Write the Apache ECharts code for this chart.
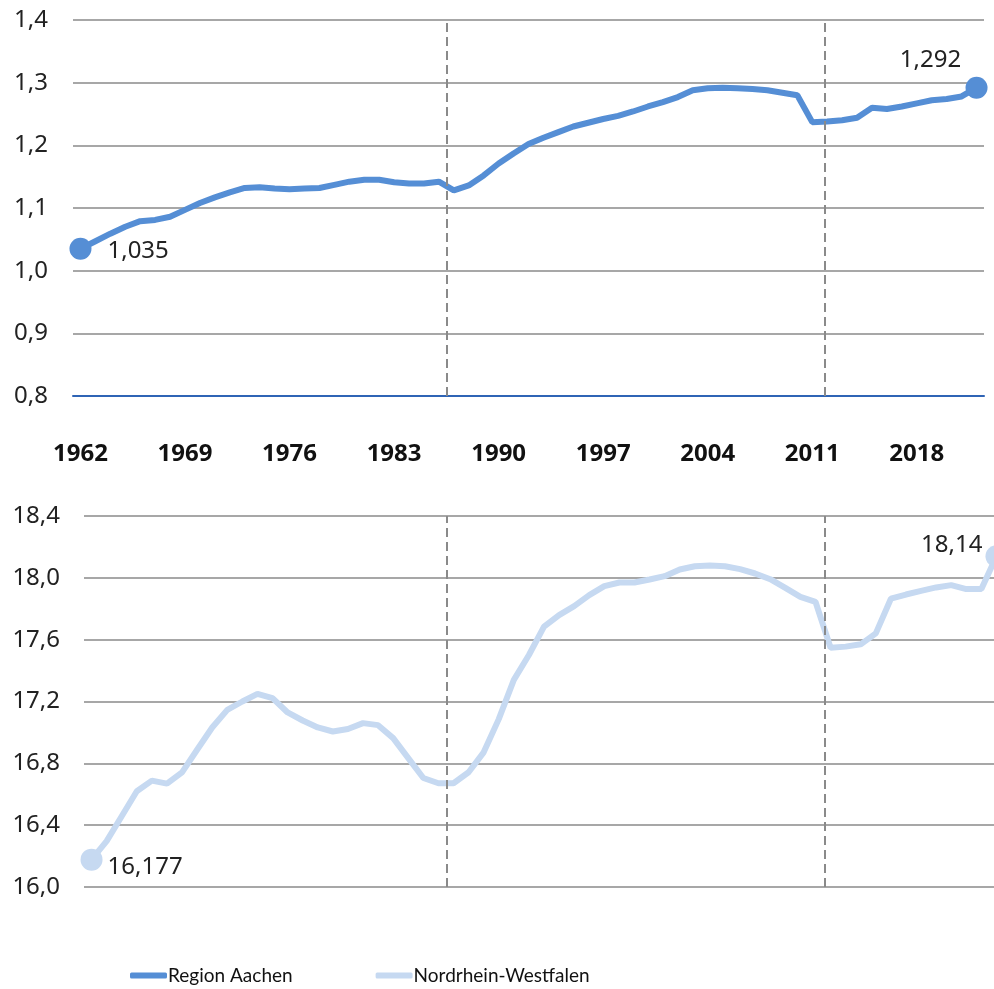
<!DOCTYPE html>
<html>
<head>
<meta charset="utf-8">
<script src="https://cdn.jsdelivr.net/npm/echarts@6/dist/echarts.min.js"></script>
<style>
  html, body { margin: 0; padding: 0; background: #fff; }
  #chart { width: 994px; height: 989px; }
</style>
</head>
<body>
<div id="chart"></div>
<script>
  // Jahre (Kategorien)
  const years = [
    1962, 1963, 1964, 1965, 1966, 1967, 1968, 1969, 1970, 1971,
    1972, 1973, 1974, 1975, 1976, 1977, 1978, 1979, 1980, 1981,
    1982, 1983, 1984, 1985, 1986, 1987, 1988, 1989, 1990, 1991,
    1992, 1993, 1994, 1995, 1996, 1997, 1998, 1999, 2000, 2001,
    2002, 2003, 2004, 2005, 2006, 2007, 2008, 2009, 2010, 2011,
    2012, 2013, 2014, 2015, 2016, 2017, 2018, 2019, 2020, 2021,
    2022
  ]

  // Region Aachen (Mio.)
  const aachen = [
    1.035, 1.047, 1.059, 1.070, 1.079, 1.081, 1.086, 1.097, 1.108, 1.117,
    1.125, 1.132, 1.133, 1.131, 1.130, 1.131, 1.132, 1.137, 1.142, 1.145,
    1.145, 1.141, 1.139, 1.139, 1.142, 1.128, 1.136, 1.152, 1.171, 1.187,
    1.202, 1.212, 1.221, 1.230, 1.236, 1.242, 1.247, 1.254, 1.262, 1.269,
    1.277, 1.288, 1.291, 1.292, 1.291, 1.290, 1.288, 1.284, 1.280, 1.237,
    1.238, 1.240, 1.244, 1.260, 1.258, 1.262, 1.267, 1.272, 1.274, 1.278,
    1.292
  ]

  // Nordrhein-Westfalen (Mio.)
  const nrw = [
    16.177, 16.297, 16.458, 16.619, 16.688, 16.669, 16.742, 16.888, 17.032, 17.146,
    17.200, 17.249, 17.222, 17.129, 17.077, 17.032, 17.006, 17.022, 17.060, 17.047,
    16.963, 16.834, 16.705, 16.671, 16.671, 16.742, 16.871, 17.086, 17.340, 17.501,
    17.684, 17.759, 17.817, 17.888, 17.946, 17.970, 17.970, 17.989, 18.011, 18.054,
    18.075, 18.080, 18.075, 18.056, 18.028, 17.991, 17.935, 17.877, 17.845, 17.548,
    17.555, 17.570, 17.641, 17.865, 17.892, 17.916, 17.938, 17.953, 17.927, 17.927,
    18.14
  ]

  const yTicksTop = [0.8, 1.4, 0.1]      // min, max, interval
  const yTicksBottom = [16.0, 18.4, 0.4]
  const censusTop = [1986.54, 2011.85]    // gestrichelte Linien (Zensus)
  const censusBottom = [1985.57, 2010.64]

  const seriesNames = ['Region Aachen', 'Nordrhein-Westfalen']
  const colors = ['#558ed5', '#c6d9f1']

  const font = 'Noto Sans'
  const gridColor = '#8a8a8a'
  const comma = v => String(v).replace('.', ',')

  // Endpunkte mit Kreis und Beschriftung
  const withEnds = (vals, firstLabel, lastLabel) => vals.map((v, i) => {
    if (i === 0) return { value: v, symbol: 'circle', label: Object.assign({ show: true }, firstLabel) }
    if (i === vals.length - 1) return { value: v, symbol: 'circle', label: Object.assign({ show: true }, lastLabel) }
    return { value: v }
  })

  const dashLine = (axisIdx, vals) => ({
    type: 'line', xAxisIndex: axisIdx, yAxisIndex: axisIdx === 1 ? 0 : 1,
    data: [], silent: true,
    markLine: {
      silent: true, symbol: 'none', label: { show: false },
      lineStyle: { color: '#8a8a8a', width: 2, type: [9, 5] },
      data: vals.map(v => ({ xAxis: v }))
    }
  })

  const chart = echarts.init(document.getElementById('chart'))
  chart.setOption({
    animation: false,
    textStyle: { fontFamily: font },
    grid: [
      { left: 73, width: 911, top: 20, height: 376, outerBoundsMode: 'none' },
      { left: 84, width: 920, top: 516, height: 371, outerBoundsMode: 'none' }
    ],
    legend: {
      data: seriesNames,
      left: 130, top: 966, padding: 0,
      icon: 'roundRect', itemWidth: 37, itemHeight: 6, itemGap: 83,
      textStyle: { fontSize: 19, fontFamily: 'Lato', color: '#111', padding: [0, 0, 0, -4] }
    },
    xAxis: [
      {
        type: 'category', gridIndex: 0, data: years, boundaryGap: true,
        axisLine: { show: true, lineStyle: { color: '#2f64b5', width: 2 } },
        axisTick: { show: false },
        axisLabel: { interval: 6, margin: 46, fontSize: 24, fontWeight: 'bold', color: '#111' },
        splitLine: { show: false }
      },
      { type: 'value', gridIndex: 0, min: 1961.5, max: 2022.5, show: false, splitLine: { show: false } },
      {
        type: 'category', gridIndex: 1, data: years, boundaryGap: true,
        axisLine: { show: false }, axisTick: { show: false }, axisLabel: { show: false },
        splitLine: { show: false }
      },
      { type: 'value', gridIndex: 1, min: 1961.5, max: 2022.5, show: false, splitLine: { show: false } }
    ],
    yAxis: [
      {
        type: 'value', gridIndex: 0,
        min: yTicksTop[0], max: yTicksTop[1], interval: yTicksTop[2],
        axisLine: { show: false }, axisTick: { show: false },
        axisLabel: { fontSize: 24, color: '#222', margin: 25, formatter: v => v.toFixed(1).replace('.', ',') },
        splitLine: { lineStyle: { color: gridColor, width: 1.5 } }
      },
      {
        type: 'value', gridIndex: 1,
        min: yTicksBottom[0], max: yTicksBottom[1], interval: yTicksBottom[2],
        axisLine: { show: false }, axisTick: { show: false },
        axisLabel: { fontSize: 24, color: '#222', margin: 24, formatter: v => v.toFixed(1).replace('.', ',') },
        splitLine: { lineStyle: { color: gridColor, width: 1.5 } }
      }
    ],
    series: [
      dashLine(1, censusTop),
      dashLine(3, censusBottom),
      {
        name: seriesNames[0], type: 'line', xAxisIndex: 0, yAxisIndex: 0,
        symbol: 'none', showSymbol: true, showAllSymbol: true, symbolSize: 22,
        color: colors[0],
        lineStyle: { width: 6, color: colors[0] },
        label: { fontSize: 24, color: '#222', formatter: p => comma(p.value) },
        data: withEnds(aachen,
          { position: 'right', distance: 16, offset: [0, 2] },
          { position: 'top', distance: 5, offset: [-46, 0] })
      },
      {
        name: seriesNames[1], type: 'line', xAxisIndex: 2, yAxisIndex: 1,
        symbol: 'none', showSymbol: true, showAllSymbol: true, symbolSize: 22,
        color: colors[1],
        lineStyle: { width: 6, color: colors[1] },
        label: { fontSize: 24, color: '#222', formatter: p => comma(p.value) },
        data: withEnds(nrw,
          { position: 'right', distance: 5, offset: [0, 8] },
          { position: 'left', distance: 3, offset: [0, -11] })
      }
    ]
  })
</script>
</body>
</html>
